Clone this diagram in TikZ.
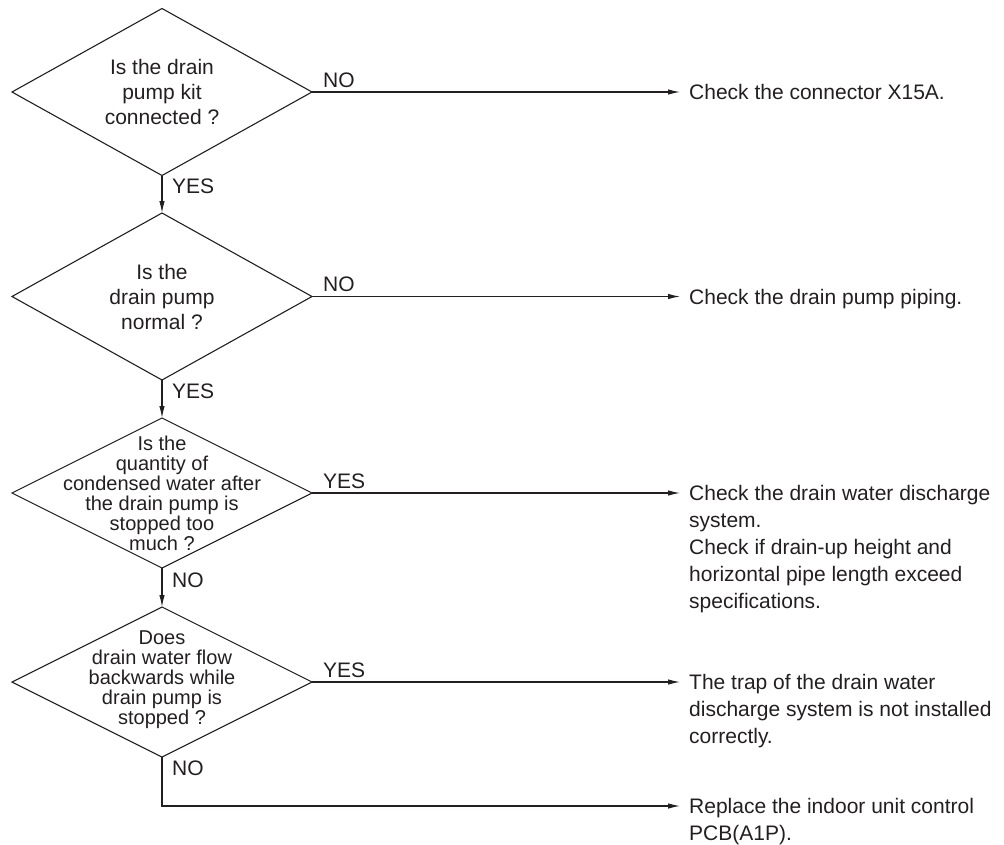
\documentclass[tikz,border=0pt]{standalone}
\usepackage{fontspec}
\setmainfont{Liberation Sans}
\usetikzlibrary{shapes.geometric,arrows.meta}
\definecolor{ink}{HTML}{231F20}
\begin{document}
\begin{tikzpicture}[x=1pt,y=-1pt,
  every node/.style={text=ink},
  dia/.style={diamond, draw=ink, line width=1.1pt, minimum width=300pt, inner sep=0pt, outer sep=0pt},
  qbig/.style={align=center, inner sep=0pt, font=\fontsize{21}{25}\selectfont},
  qsmall/.style={align=center, inner sep=0pt, font=\fontsize{20}{20}\selectfont},
  atext/.style={align=left, anchor=north west, inner xsep=9pt, inner ysep=0pt, font=\fontsize{21}{27}\selectfont},
  lbl/.style={anchor=base west, inner sep=0pt, font=\fontsize{21}{25}\selectfont},
  conn/.style={draw=ink, line width=1.1pt},
  arr/.style={conn, -{Latex[length=12pt,width=5.5pt]}}]
\useasboundingbox (0,0) rectangle (1004,844);
% decisions
\node[dia, minimum height=167pt] (d1) at (162,92) {};
\node[qbig] (q1) at (d1.center) {Is the drain\\pump kit\\connected ?};
\node[dia, minimum height=167pt] (d2) at (162,296.5) {};
\node[qbig] (q2) at (d2.center) {Is the\\drain pump\\normal ?};
\node[dia, minimum height=150pt] (d3) at (162,493) {};
\node[qsmall] (q3) at (d3.center) {Is the\\quantity of\\condensed water after\\the drain pump is\\stopped too\\much ?};
\node[dia, minimum height=150pt] (d4) at (162,682) {};
\node[qsmall] (q4) at ([yshift=2pt]d4.center) {Does\\drain water flow\\backwards while\\drain pump is\\stopped ?};
% results
\node[atext] (r1) at (680,84.5) {Check the connector X15A.};
\node[atext] (r2) at (680,289) {Check the drain pump piping.};
\node[atext] (r3) at (680,485.5) {Check the drain water discharge\\system.\\Check if drain-up height and\\horizontal pipe length exceed\\specifications.};
\node[atext] (r4) at (680,674.5) {The trap of the drain water\\discharge system is not installed\\correctly.};
\node[atext] (r5) at (680,798.5) {Replace the indoor unit control\\PCB(A1P).};
\coordinate (c5) at (162,806);
% connectors
\draw[arr] (d1.south) -- (d2.north);
\draw[arr] (d2.south) -- (d3.north);
\draw[arr] (d3.south) -- (d4.north);
\draw[arr] (d1.east) -- (d1.east -| r1.west);
\draw[arr] (d2.east) -- (d2.east -| r2.west);
\draw[arr] (d3.east) -- (d3.east -| r3.west);
\draw[arr] (d4.east) -- (d4.east -| r4.west);
\draw[arr] (d4.south) -- (c5) -- (c5 -| r5.west);
% labels
\node[lbl] (l1a) at ([xshift=10pt,yshift=-18pt]d1.south) {YES};
\node[lbl] (l1b) at ([xshift=11pt,yshift=5pt]d1.east) {NO};
\node[lbl] (l2a) at ([xshift=10pt,yshift=-18pt]d2.south) {YES};
\node[lbl] (l2b) at ([xshift=11pt,yshift=5pt]d2.east) {NO};
\node[lbl] (l3a) at ([xshift=10pt,yshift=-19pt]d3.south) {NO};
\node[lbl] (l3b) at ([xshift=11pt,yshift=5pt]d3.east) {YES};
\node[lbl] (l4a) at ([xshift=10pt,yshift=-18pt]d4.south) {NO};
\node[lbl] (l4b) at ([xshift=11pt,yshift=5pt]d4.east) {YES};
\end{tikzpicture}
\end{document}
